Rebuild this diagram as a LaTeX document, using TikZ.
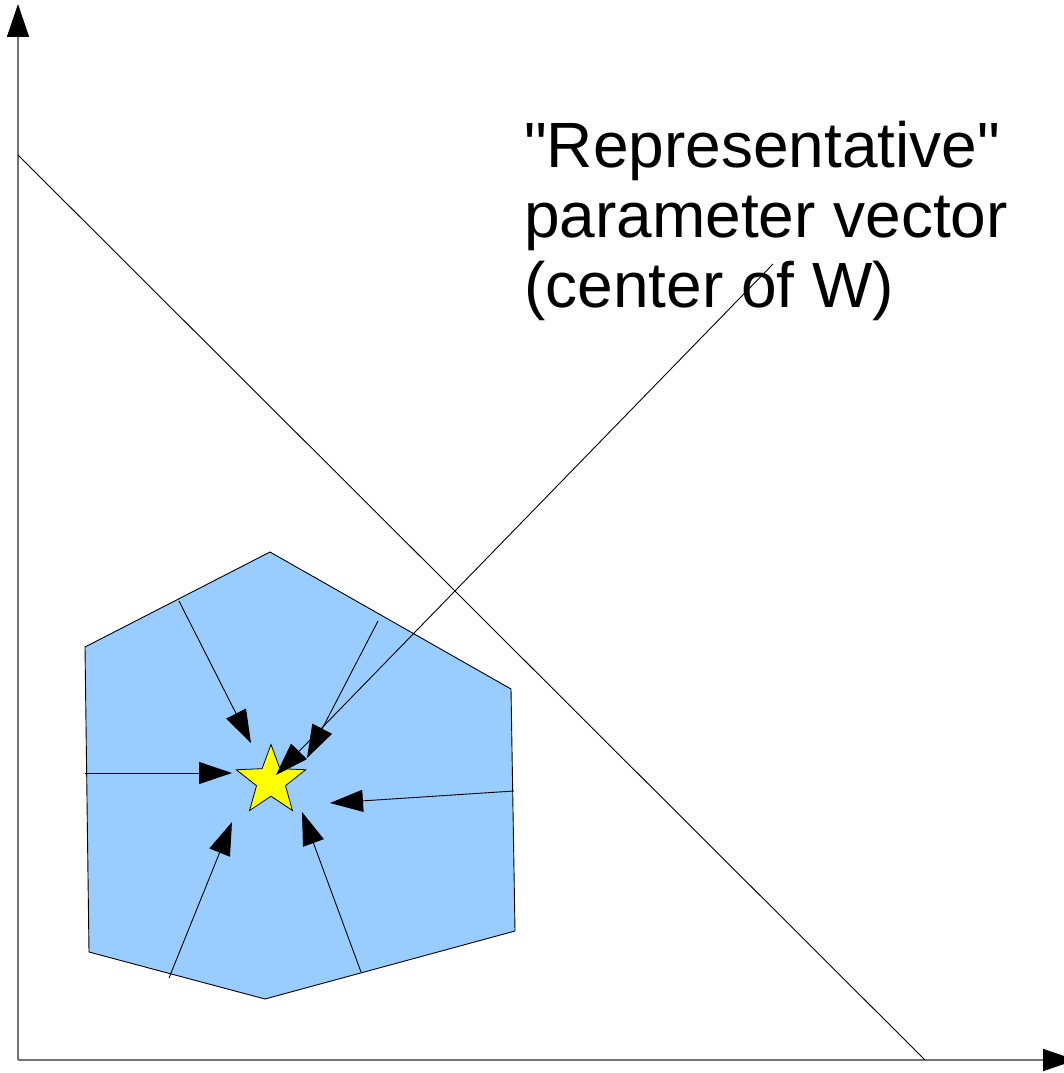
\documentclass[tikz,border=0pt]{standalone}
\usepackage{fontspec}
\setmainfont{Liberation Sans}[Ligatures=TeXOff]
\usetikzlibrary{arrows.meta, shapes.geometric}

\definecolor{regionblue}{HTML}{99CCFF}
\definecolor{staryellow}{HTML}{FFFF00}

\begin{document}
\begin{tikzpicture}[
        x = 1pt, y = -1pt,
        >= {Triangle[length = 33pt, width = 22pt]},
        axis/.style = {draw = black!55, line width = 1.5pt,
                       -{Triangle[length = 33pt, width = 22pt, black]}},
        region/.style = {draw = black, line width = 0.9pt, fill = regionblue},
        pull/.style = {draw = black, line width = 0.9pt},
        plain/.style = {draw = black, line width = 0.9pt}
    ]

    \useasboundingbox (0,0) rectangle (1063,1073);

    % axes
    \coordinate (origin) at (18,1060);
    \coordinate (ytop)   at (18,4);
    \coordinate (xend)   at (1076,1060);
    \draw[axis] (origin) -- (ytop);
    \draw[axis] (origin) -- (xend);

    % the region W
    \draw[region] (270,552) -- (511,689) -- (515,931) -- (265,999)
                  -- (89,952) -- (85,647) -- cycle;

    % the boundary line
    \coordinate (diagtop) at (18,155);
    \coordinate (diagbot) at (925,1060);
    \draw[plain] (diagtop) -- (diagbot);

    % the representative vector
    \node[star, star points = 5, star point ratio = 2.4,
          minimum size = 73pt, inner sep = 0pt,
          draw = black, line width = 0.8pt, fill = staryellow] (center) at (271,781) {};

    % starting points on the boundary of W and the tips near the star
    \coordinate (s1) at (179,601);  \coordinate (t1) at (251,743);
    \coordinate (s2) at (378,621);  \coordinate (t2) at (307,758);
    \coordinate (s3) at (85,773);   \coordinate (t3) at (232,773);
    \coordinate (s4) at (514,791);  \coordinate (t4) at (330,803);
    \coordinate (s5) at (169,978);  \coordinate (t5) at (232,822);
    \coordinate (s6) at (361,972);  \coordinate (t6) at (302,812);

    \path[->]
        (s1) edge [pull] (t1)
        (s2) edge [pull] (t2)
        (s3) edge [pull] (t3)
        (s4) edge [pull] (t4)
        (s5) edge [pull] (t5)
        (s6) edge [pull] (t6);

    % label
    \node[anchor = north west, align = left, inner sep = 0pt,
          font = \fontsize{64}{70}\selectfont] (label) at (524,121)
          {"Representative"\\parameter vector\\(center of W)};

    \coordinate (labelend) at (773,264);
    \coordinate (pointtip) at (276,775);
    \path[->] (labelend) edge [pull] (pointtip);

\end{tikzpicture}
\end{document}
